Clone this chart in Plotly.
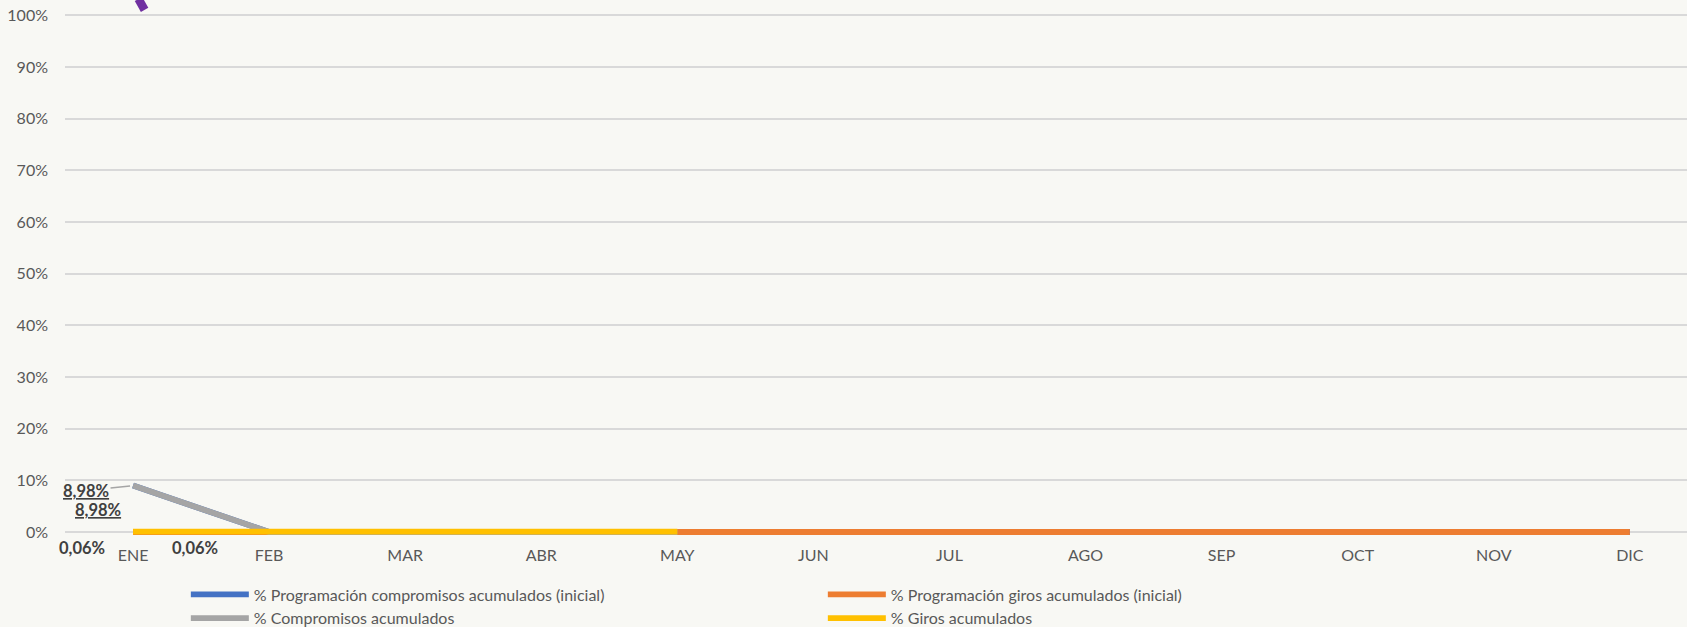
import plotly.graph_objects as go

months = ["ENE", "FEB", "MAR", "ABR", "MAY", "JUN", "JUL", "AGO", "SEP", "OCT", "NOV", "DIC"]

prog_compromisos = [8.98, 0, 0, 0, 0, 0, 0, 0, 0, 0, 0, 0]
prog_giros = [0, 0, 0, 0, 0, 0, 0, 0, 0, 0, 0, 0]
compromisos = [8.98, 0, 0, 0, 0]
giros = [0.06, 0.06, 0.06, 0.06, 0.06]

names = [
    "% Programación compromisos acumulados (inicial)",
    "% Programación giros acumulados (inicial)",
    "% Compromisos acumulados",
    "% Giros acumulados",
]
colors = ["#4472C4", "#ED7D31", "#A5A5A5", "#FFC000"]

y_ticks = [0, 10, 20, 30, 40, 50, 60, 70, 80, 90, 100]
y_ticktext = [f"{v}%" for v in y_ticks]

FONT = "Lato"
TXT = "#595959"
LBL = "#404040"
BG = "#F8F8F4"

fig = go.Figure()
series = [prog_compromisos, prog_giros, compromisos, giros]
for name, vals, col in zip(names, series, colors):
    fig.add_trace(go.Scatter(
        x=months[:len(vals)], y=vals, name=name, mode="lines",
        line=dict(color=col, width=5.8),
    ))

def fmt(v):
    return f"{v:.2f}%".replace(".", ",")

# data labels
fig.add_annotation(x=months[0], y=compromisos[0], text=fmt(compromisos[0]),
                   showarrow=True, arrowhead=0, arrowcolor="#A5A5A5", arrowwidth=1.5,
                   ax=-47, ay=5, standoff=3,
                   font=dict(family=FONT, size=16.5, color=LBL, weight="bold", lineposition="under"))
fig.add_annotation(x=months[0], y=prog_compromisos[0], text=fmt(prog_compromisos[0]),
                   showarrow=False, xshift=-35, yshift=-24,
                   font=dict(family=FONT, size=16.5, color=LBL, weight="bold", lineposition="under"))
fig.add_annotation(x=months[0], y=giros[0], text=fmt(giros[0]),
                   showarrow=False, xshift=-51, yshift=-16,
                   font=dict(family=FONT, size=16.5, color=LBL, weight="bold"))
fig.add_annotation(x=months[1], y=giros[1], text=fmt(giros[1]),
                   showarrow=False, xshift=-74, yshift=-16,
                   font=dict(family=FONT, size=16.5, color=LBL, weight="bold"))

# purple stroke fragment at top-left (element cut off from above)
fig.add_shape(type="line", x0=0.04, y0=103.2, x1=0.085, y1=101.1,
              line=dict(color="#7030A0", width=8.5), layer="above")

fig.update_layout(
    width=1687, height=627,
    margin=dict(l=65, r=0, t=0, b=87, autoexpand=False),
    paper_bgcolor=BG, plot_bgcolor=BG,
    font=dict(family=FONT, size=16, color=TXT),
    showlegend=True,
    legend=dict(orientation="h", x=0.0745, xanchor="left", y=-0.0694, yanchor="top",
                entrywidth=564, entrywidthmode="pixels", itemwidth=58,
                font=dict(family=FONT, size=16, color=TXT),
                bgcolor="rgba(0,0,0,0)", traceorder="normal"),
    xaxis=dict(range=[-0.5, 11.42], showgrid=False, zeroline=False, showline=False,
               ticks="", tickfont=dict(family=FONT, size=16, color=TXT),
               ticklabelstandoff=4),
    yaxis=dict(range=[-1.55, 103.0], tickvals=y_ticks, ticktext=y_ticktext,
               showgrid=True, gridcolor="#D9D9D9", gridwidth=1.5,
               zeroline=False, showline=False, ticks="",
               tickfont=dict(family=FONT, size=16, color=TXT),
               ticklabelstandoff=16),
)

fig.write_html(
    "out.html",
    config={"displayModeBar": False},
    post_script=f"document.body.style.margin='0';document.body.style.background='{BG}';",
)
